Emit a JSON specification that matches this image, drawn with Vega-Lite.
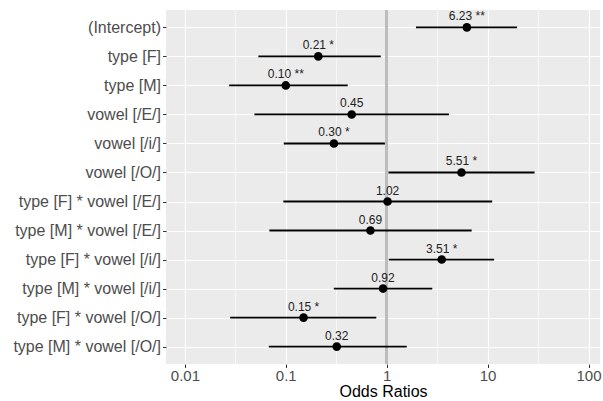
{
  "$schema": "https://vega.github.io/schema/vega-lite/v6.json",
  "width": 434,
  "height": 354,
  "autosize": {"type": "none"},
  "padding": {"left": 166, "top": 10, "right": 3, "bottom": 37},
  "background": "white",
  "config": {
    "view": {"fill": "#EBEBEB", "stroke": null},
    "font": "Liberation Sans",
    "axis": {"domain": false, "gridColor": "white", "labelFont": "Liberation Sans", "titleFont": "Liberation Sans"}
  },
  "data": {
    "values": [
      {"term": "(Intercept)", "or": 6.23, "lo": 1.95, "hi": 19.6, "label": "6.23 **"},
      {"term": "type [F]", "or": 0.21, "lo": 0.0535, "hi": 0.873, "label": "0.21 *"},
      {"term": "type [M]", "or": 0.10, "lo": 0.0275, "hi": 0.411, "label": "0.10 **"},
      {"term": "vowel [/E/]", "or": 0.45, "lo": 0.0489, "hi": 4.14, "label": "0.45"},
      {"term": "vowel [/i/]", "or": 0.30, "lo": 0.0955, "hi": 0.96, "label": "0.30 *"},
      {"term": "vowel [/O/]", "or": 5.51, "lo": 1.04, "hi": 29.2, "label": "5.51 *"},
      {"term": "type [F] * vowel [/E/]", "or": 1.02, "lo": 0.0946, "hi": 11.1, "label": "1.02"},
      {"term": "type [M] * vowel [/E/]", "or": 0.69, "lo": 0.0688, "hi": 6.95, "label": "0.69"},
      {"term": "type [F] * vowel [/i/]", "or": 3.51, "lo": 1.05, "hi": 11.6, "label": "3.51 *"},
      {"term": "type [M] * vowel [/i/]", "or": 0.92, "lo": 0.299, "hi": 2.83, "label": "0.92"},
      {"term": "type [F] * vowel [/O/]", "or": 0.15, "lo": 0.0281, "hi": 0.789, "label": "0.15 *"},
      {"term": "type [M] * vowel [/O/]", "or": 0.32, "lo": 0.0679, "hi": 1.58, "label": "0.32"}
    ]
  },
  "encoding": {
    "y": {
      "field": "term", "type": "nominal", "sort": null,
      "scale": {"type": "point", "padding": 0.6},
      "axis": {"title": null, "grid": true, "gridWidth": 1.1, "labelFontSize": 16, "labelColor": "#4D4D4D", "tickColor": "#333333", "tickSize": 3.5, "labelPadding": 2}
    }
  },
  "layer": [
    {
      "mark": {"type": "rule", "color": "#BDBDBD", "strokeWidth": 2},
      "encoding": {
        "x": {"datum": 1, "type": "quantitative",
          "scale": {"type": "log", "domain": [0.0065, 130], "nice": false, "zero": false},
          "axis": {
            "title": "Odds Ratios", "titleFontSize": 16, "titleFontWeight": "normal", "titleColor": "black", "titlePadding": 0,
            "values": [0.01, 0.0316, 0.1, 0.316, 1, 3.16, 10, 31.6, 100],
            "labelExpr": "indexof([0.01,0.1,1,10,100], datum.value) >= 0 ? format(datum.value, '') : ''",
            "labelFontSize": 15, "labelColor": "#4D4D4D", "labelFlush": false, "labelPadding": 1,
            "grid": true,
            "gridWidth": {"condition": {"test": "indexof([0.01,0.1,1,10,100], datum.value) >= 0", "value": 1.1}, "value": 0.6},
            "tickColor": {"condition": {"test": "indexof([0.01,0.1,1,10,100], datum.value) >= 0", "value": "#333333"}, "value": "transparent"},
            "tickSize": 3.5
          }
        },
        "y": null
      }
    },
    {
      "mark": {"type": "rule", "color": "black", "strokeWidth": 1.8},
      "encoding": {
        "x": {"field": "lo", "type": "quantitative"},
        "x2": {"field": "hi"}
      }
    },
    {
      "mark": {"type": "point", "filled": true, "color": "black", "opacity": 1, "size": 75},
      "encoding": {"x": {"field": "or", "type": "quantitative"}}
    },
    {
      "mark": {"type": "text", "fontSize": 12, "color": "#222222", "dy": -11, "baseline": "middle"},
      "encoding": {"x": {"field": "or", "type": "quantitative"}, "text": {"field": "label"}}
    }
  ]
}
